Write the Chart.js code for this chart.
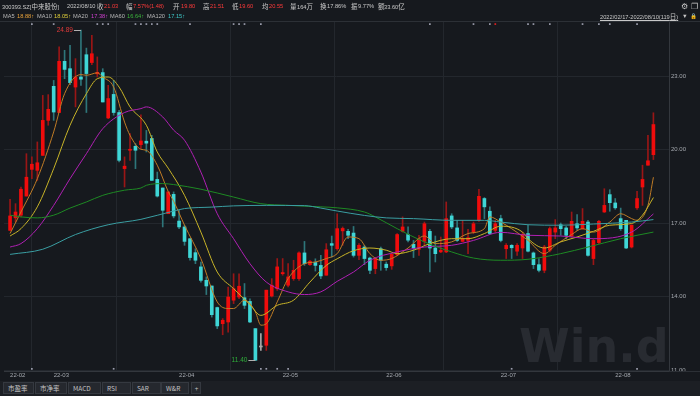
<!DOCTYPE html>
<html><head><meta charset="utf-8">
<script src="https://cdn.jsdelivr.net/npm/chart.js@4/dist/chart.umd.min.js"></script>
<style>
html,body{margin:0;padding:0;background:#16191e;width:700px;height:396px;overflow:hidden;}
#wrap{position:relative;width:700px;height:396px;font-family:"Liberation Sans","Noto Sans CJK SC",sans-serif;}
#c{position:absolute;left:0;top:0;}
.t{position:absolute;font-size:5.7px;line-height:9px;color:#c8c8c8;white-space:nowrap;}
.t .z,.z{font-size:6.5px;font-family:"Noto Sans CJK SC",sans-serif;}
.r{color:#ff3a3a;}
#tabs{position:absolute;left:0;top:381px;width:700px;height:15px;background:#1c1f24;}
.tab{position:absolute;top:1px;height:12px;background:#25282e;border:1px solid #353940;box-sizing:border-box;font-size:6.5px;line-height:10px;color:#c4c4c4;padding-left:4px;font-family:"Noto Sans CJK SC","Liberation Sans",sans-serif;}
</style></head><body>
<div id="wrap">
<canvas id="c" width="700" height="381"></canvas>
<div class="t" style="left:2px;top:2px">300393.SZ[<span class="z">中来股份</span>]</div>
<div class="t" style="left:67px;top:2px">2022/08/10</div>
<div class="t z" style="left:97px;top:2px">收</div><div class="t r" style="left:104px;top:2px">21.03</div>
<div class="t z" style="left:126px;top:2px">幅</div><div class="t r" style="left:133px;top:2px">7.57%(1.48)</div>
<div class="t z" style="left:173px;top:2px">开</div><div class="t r" style="left:181px;top:2px">19.80</div>
<div class="t z" style="left:203px;top:2px">高</div><div class="t r" style="left:210px;top:2px">21.51</div>
<div class="t z" style="left:232px;top:2px">低</div><div class="t r" style="left:239px;top:2px">19.60</div>
<div class="t z" style="left:262px;top:2px">均</div><div class="t r" style="left:269px;top:2px">20.55</div>
<div class="t z" style="left:290px;top:2px">量</div><div class="t" style="left:297px;top:2px">164<span class="z">万</span></div>
<div class="t z" style="left:320px;top:2px">换</div><div class="t" style="left:327px;top:2px">17.86%</div>
<div class="t z" style="left:351px;top:2px">振</div><div class="t" style="left:358px;top:2px">9.77%</div>
<div class="t z" style="left:378px;top:2px">额</div><div class="t" style="left:384px;top:2px">33.60<span class="z">亿</span></div>
<div class="t" style="left:3px;top:12px;color:#b8b8b8">MA5</div><div class="t" style="left:17px;top:12px;color:#e8a23a">18.88↑</div>
<div class="t" style="left:37px;top:12px;color:#b8b8b8">MA10</div><div class="t" style="left:54px;top:12px;color:#e0d03a">18.05↑</div>
<div class="t" style="left:73px;top:12px;color:#b8b8b8">MA20</div><div class="t" style="left:91px;top:12px;color:#d040d0">17.38↑</div>
<div class="t" style="left:110px;top:12px;color:#b8b8b8">MA60</div><div class="t" style="left:127px;top:12px;color:#3cb43c">16.64↑</div>
<div class="t" style="left:147px;top:12px;color:#b8b8b8">MA120</div><div class="t" style="left:168px;top:12px;color:#3ec8c8">17.15↑</div>
<div class="t" style="left:600px;top:12px;text-decoration:underline;color:#c8c8c8">2022/02/17-2022/08/10(119<span class="z">日</span>)</div>
<div class="t" style="left:682px;top:12px;color:#c8c8c8">▼</div>
<div class="t" style="left:690px;top:12px;color:#e8b020">🔒</div>
<div class="t" style="left:681px;top:2px;color:#c8c8c8;font-size:8px">⚙</div>
<div class="t" style="left:691px;top:2px;color:#c8c8c8;font-size:8px">❐</div>
<div id="tabs">
<div class="tab" style="left:3px;width:31px">市盈率</div>
<div class="tab" style="left:35px;width:32px">市净率</div>
<div class="tab" style="left:68px;width:33px">MACD</div>
<div class="tab" style="left:102px;width:29px">RSI</div>
<div class="tab" style="left:132px;width:29px">SAR</div>
<div class="tab" style="left:161px;width:28px">W&amp;R</div>
<div class="tab" style="left:191px;width:10px;padding-left:1px;text-align:center">+</div>
</div>
</div>
<script>
const openP=[16.71,17.22,17.33,18.11,19.20,19.16,19.77,21.20,22.59,21.52,23.61,23.31,22.56,22.97,23.88,23.56,23.10,23.15,21.30,22.26,21.52,19.23,19.98,20.14,20.21,20.35,20.46,18.79,18.44,17.39,18.18,17.09,16.85,16.37,15.80,15.22,14.67,14.44,13.56,12.90,12.97,13.86,13.99,13.96,13.81,12.70,11.95,12.02,14.03,14.33,14.94,14.47,14.74,14.74,15.79,15.31,15.40,15.28,14.88,16.17,15.96,16.69,16.67,16.60,15.69,16.03,15.58,15.15,15.96,15.33,15.26,15.72,16.67,16.54,16.14,15.94,16.26,16.67,15.99,15.83,15.83,17.30,16.81,16.26,16.30,16.65,17.12,18.01,17.49,16.71,17.19,15.96,16.10,15.86,15.99,16.58,15.79,15.31,15.08,15.90,16.64,16.94,16.81,16.48,16.98,16.78,17.05,15.56,16.21,17.46,18.17,17.83,17.19,17.12,16.03,17.63,18.48,19.37,19.80];
const highP=[17.98,17.80,18.48,19.84,19.71,20.32,22.22,22.25,22.83,24.20,24.06,24.26,23.72,24.89,24.15,24.67,23.79,23.31,22.63,22.83,21.61,19.71,20.66,20.25,21.43,20.79,20.59,19.09,18.44,18.28,18.28,17.53,16.92,16.37,15.96,15.42,14.81,14.44,13.58,13.11,14.40,14.94,14.94,14.54,13.92,12.70,12.50,14.27,14.74,15.56,15.56,15.35,15.49,15.83,16.26,15.49,15.55,15.69,16.17,16.48,17.39,16.85,16.75,16.87,16.17,16.10,15.62,15.60,16.03,15.42,15.76,16.58,17.26,16.85,16.30,16.51,17.05,16.75,16.48,16.44,17.87,17.39,17.12,17.12,16.75,17.05,18.39,18.05,17.67,17.12,17.33,16.17,16.13,16.17,16.64,16.92,15.83,15.56,16.10,16.85,17.15,17.01,16.87,17.46,17.35,17.60,17.12,16.37,17.12,18.41,18.37,18.01,17.62,17.12,16.94,18.30,19.37,20.59,21.51];
const lowP=[16.71,17.05,17.26,18.11,18.82,18.75,19.77,21.00,21.20,21.52,22.90,22.66,21.75,22.63,21.52,23.47,22.97,21.95,21.27,21.41,19.50,18.48,19.57,19.23,20.05,19.91,18.75,18.07,16.85,17.39,17.22,16.78,16.10,15.49,15.35,14.60,14.09,13.17,12.70,12.45,12.56,13.72,13.92,13.52,12.94,11.40,11.81,11.81,13.99,14.26,14.88,14.40,14.67,14.67,15.28,15.28,15.05,14.74,14.88,15.62,15.90,16.10,16.37,15.62,15.51,15.31,14.94,14.94,15.08,15.08,15.12,15.69,16.64,16.24,15.60,15.69,16.10,15.01,15.42,15.80,15.80,16.78,16.26,16.24,15.76,16.58,17.08,17.19,16.54,16.64,16.24,15.56,15.56,15.69,15.56,15.83,15.15,15.01,14.98,15.83,16.37,16.51,16.37,16.44,16.71,16.75,15.66,15.31,16.17,17.44,17.49,17.57,16.71,15.96,15.99,17.57,17.73,19.37,19.60];
const closeP=[17.30,17.46,18.39,18.88,19.41,19.47,21.20,21.65,21.54,23.61,23.28,22.74,22.97,22.88,23.11,23.92,23.16,21.95,22.09,21.52,19.57,19.33,20.02,19.98,20.36,20.27,18.75,18.11,17.53,18.28,17.30,16.85,16.26,15.60,15.49,14.67,14.44,13.27,12.81,13.04,13.99,14.33,14.43,13.65,12.97,11.41,11.95,14.27,14.47,15.22,14.99,14.81,15.08,15.79,15.35,15.45,15.28,14.85,15.92,16.10,16.78,16.79,16.51,15.69,16.10,15.56,15.08,15.56,15.49,15.19,15.73,16.54,16.85,16.31,15.99,16.37,16.98,15.99,15.76,15.90,17.19,16.85,16.30,16.37,16.41,16.98,18.10,17.67,16.58,16.98,16.30,16.10,16.00,16.10,16.54,15.86,15.31,15.08,16.03,16.78,16.81,16.78,16.51,17.08,16.81,17.08,15.69,16.30,17.08,17.73,17.84,17.63,16.78,15.99,16.92,18.01,18.79,19.55,21.03];

const monthTickIdx=[0,8,31,50,69,90,111];
const monthTickLabels=['22-02','22-03','22-04','22-05','22-06','22-07','22-08'];
const yTickValues=[11,14,17,20,23];

const ma5Idx=[0,2,5,8,10,13,14,16,17,19,21,22,24,25,27,29,30,32,35,38,40,41,43,45,46,47,49,51,54,56,58,60,62,64,66,68,70,73,76,78,81,84,87,88,90,92,95,98,100,103,105,107,110,112,114,115,117,118];
const ma5Val=[16.58,17.46,18.82,20.73,22.29,23.07,23.04,23.14,22.97,22.56,21.13,20.59,20.02,19.98,19.37,18.30,17.90,16.92,15.56,13.79,13.52,13.52,13.86,13.38,12.84,12.90,13.79,14.74,15.35,15.42,15.56,15.76,16.44,16.37,15.76,15.49,15.56,15.99,16.48,16.17,16.24,16.58,16.78,17.26,17.05,16.78,16.30,15.76,16.10,16.54,16.78,16.64,17.05,17.39,17.19,17.12,17.73,18.88];
const ma10Idx=[0,2,5,8,11,14,16,18,20,22,25,27,29,32,35,38,41,44,46,49,52,55,58,60,63,66,69,71,74,77,81,84,87,90,94,95,98,101,104,107,110,114,116,118];
const ma10Val=[16.48,16.78,17.67,19.23,21.00,22.29,22.90,22.97,22.56,21.75,21.00,19.91,19.25,18.14,16.64,15.01,14.33,13.68,13.24,13.65,13.86,14.60,15.28,15.55,15.88,15.99,15.90,15.76,15.90,16.17,16.37,16.37,16.58,16.88,16.64,16.37,15.99,16.24,16.44,16.67,16.92,16.99,17.33,18.05];
const ma20Idx=[0,2,5,8,11,14,17,21,24,25,28,30,32,35,38,41,44,47,51,54,57,60,63,66,71,76,81,85,90,95,101,107,114,118];
const ma20Val=[16.03,16.17,16.78,17.73,18.82,19.84,20.86,21.52,21.68,21.75,21.34,20.80,20.39,19.09,17.39,16.37,15.35,14.60,14.20,14.09,14.20,14.63,15.01,15.49,15.83,16.03,16.10,16.30,16.63,16.51,16.48,16.37,16.64,17.38];
const ma60Idx=[0,2,5,8,11,14,17,21,24,25,28,30,35,41,46,51,57,60,65,67,71,76,81,85,90,95,101,106,112,118];
const ma60Val=[17.33,17.26,17.22,17.33,17.62,17.87,18.14,18.35,18.44,18.55,18.62,18.58,18.39,18.07,17.80,17.73,17.67,17.63,17.46,17.26,16.78,16.24,15.83,15.58,15.49,15.53,15.76,16.03,16.37,16.64];
const ma120Idx=[0,6,12,18,24,30,32,37,41,47,54,57,60,65,69,74,81,87,90,95,101,107,114,118];
const ma120Val=[15.73,15.94,16.54,16.94,17.16,17.50,17.60,17.66,17.71,17.73,17.72,17.62,17.50,17.32,17.22,17.19,17.12,17.12,17.05,16.94,16.92,16.97,17.05,17.15];

const topMarkIdx=[4,8,16,17,18,23,24,25,26,27,33,41,42,43,46,77,85,88,89,95,96,99,105,108,110,115];
const topMarkRed=[89];
const bottomMarkIdx=[4,19,46,47,49,51,92,115];

const UP='#f00c0c', UPW='#9a1616', DN='#3fd6d6', DNW='#2e767a', FLAT='#a8a8a8', MARK='#9a9cab';
const idx=openP.map((_,i)=>i);
const kind=i=>closeP[i]>openP[i]?1:(closeP[i]<openP[i]?-1:0);
const bodyCol=i=>kind(i)>0?UP:(kind(i)<0?DN:FLAT);
const wickCol=i=>kind(i)>0?UPW:(kind(i)<0?DNW:FLAT);
const pts=(xs,ys)=>xs.map((x,k)=>({x:x,y:ys[k]}));
const lineDs=(xs,ys,c)=>({type:'line',data:pts(xs,ys),borderColor:c,borderWidth:1,pointRadius:0,cubicInterpolationMode:'monotone',order:0});

const TOPY=25.13, BOTY=11.06;
const annot={id:'annot',
 beforeDatasetsDraw(ch){
   const {ctx,chartArea:a}=ch;
   ctx.save();
   ctx.fillStyle='#282b31';
   ctx.font='bold 46px "DejaVu Sans"';
   ctx.textBaseline='alphabetic';
   ctx.fillText('Win.d',519,362);
   ctx.strokeStyle='#2c3036';ctx.lineWidth=1;
   ctx.beginPath();ctx.moveTo(0,a.top+0.5);ctx.lineTo(700,a.top+0.5);ctx.stroke();
   ctx.beginPath();ctx.moveTo(669,a.bottom+0.5);ctx.lineTo(700,a.bottom+0.5);ctx.stroke();
   ctx.restore();
 },
 afterDatasetsDraw(ch){
   const {ctx,scales:{x,y}}=ch;
   let hi=0,lo=0;
   for(const i of idx){if(highP[i]>highP[hi])hi=i;if(lowP[i]<lowP[lo])lo=i;}
   ctx.save();
   ctx.font='6.5px "Liberation Sans"';ctx.textBaseline='middle';
   const hx=x.getPixelForValue(hi),hy=y.getPixelForValue(highP[hi]);
   ctx.strokeStyle='#b0b0b0';ctx.lineWidth=1;
   ctx.beginPath();ctx.moveTo(hx-7,Math.round(hy)+0.5);ctx.lineTo(hx,Math.round(hy)+0.5);ctx.stroke();
   ctx.fillStyle='#e03a3a';ctx.textAlign='right';ctx.fillText(highP[hi].toFixed(2),hx-8,hy);
   const lx=x.getPixelForValue(lo),ly=y.getPixelForValue(lowP[lo]);
   ctx.beginPath();ctx.moveTo(lx-7,Math.round(ly)+0.5);ctx.lineTo(lx,Math.round(ly)+0.5);ctx.stroke();
   ctx.fillStyle='#2fae3a';ctx.fillText(lowP[lo].toFixed(2),lx-8,ly);
   ctx.restore();
 }};

new Chart(document.getElementById('c'),{
 data:{datasets:[
  lineDs(ma120Idx,ma120Val,'#3a9ea2'),
  lineDs(ma60Idx,ma60Val,'#1e8a24'),
  lineDs(ma20Idx,ma20Val,'#b020b4'),
  lineDs(ma10Idx,ma10Val,'#c8b428'),
  lineDs(ma5Idx,ma5Val,'#c07c26'),
  {type:'bar',data:idx.map(i=>({x:i,y:[lowP[i],highP[i]]})),backgroundColor:idx.map(wickCol),barThickness:1,grouped:false,order:3,borderWidth:0},
  {type:'bar',data:idx.map(i=>({x:i,y:[openP[i],closeP[i]]})),backgroundColor:idx.map(bodyCol),barThickness:3,minBarLength:1,grouped:false,order:2,borderWidth:0},
  {type:'scatter',data:topMarkIdx.map(i=>({x:i,y:TOPY})),pointStyle:'rect',pointRadius:1.2,backgroundColor:topMarkIdx.map(i=>topMarkRed.includes(i)?'#e02020':MARK),borderWidth:0,order:1},
  {type:'scatter',data:bottomMarkIdx.map(i=>({x:i,y:BOTY})),pointStyle:'rect',pointRadius:1.2,backgroundColor:MARK,borderWidth:0,order:1}
 ]},
 options:{
  responsive:false,animation:false,
  layout:{padding:{top:21,left:0,right:0,bottom:0}},
  plugins:{legend:{display:false},tooltip:{enabled:false}},
  scales:{
   x:{type:'linear',min:-1.112,max:120.86,position:'bottom',offset:false,
      afterBuildTicks:s=>{s.ticks=monthTickIdx.map(v=>({value:v}));},
      afterFit:s=>{s.height=10;},
      ticks:{callback:v=>monthTickLabels[monthTickIdx.indexOf(v)],align:'start',color:'#a4a8ae',font:{size:6,family:'Liberation Sans'},padding:1,maxRotation:0,autoSkip:false},
      grid:{color:'#23272d',drawTicks:false,lineWidth:1},
      border:{display:true,color:'#33373d'}},
   y:{position:'right',min:10.97,max:25.256,
      afterBuildTicks:s=>{s.ticks=yTickValues.map(v=>({value:v}));},
      afterFit:s=>{s.width=31;},
      ticks:{callback:v=>Number(v).toFixed(2),color:'#a4a8ae',font:{size:6,family:'Liberation Sans'},padding:2},
      grid:{color:'#23272d',drawTicks:false,lineWidth:1},
      border:{display:true,color:'#33373d'}}
  }
 },
 plugins:[annot]
});
</script>
</body></html>
